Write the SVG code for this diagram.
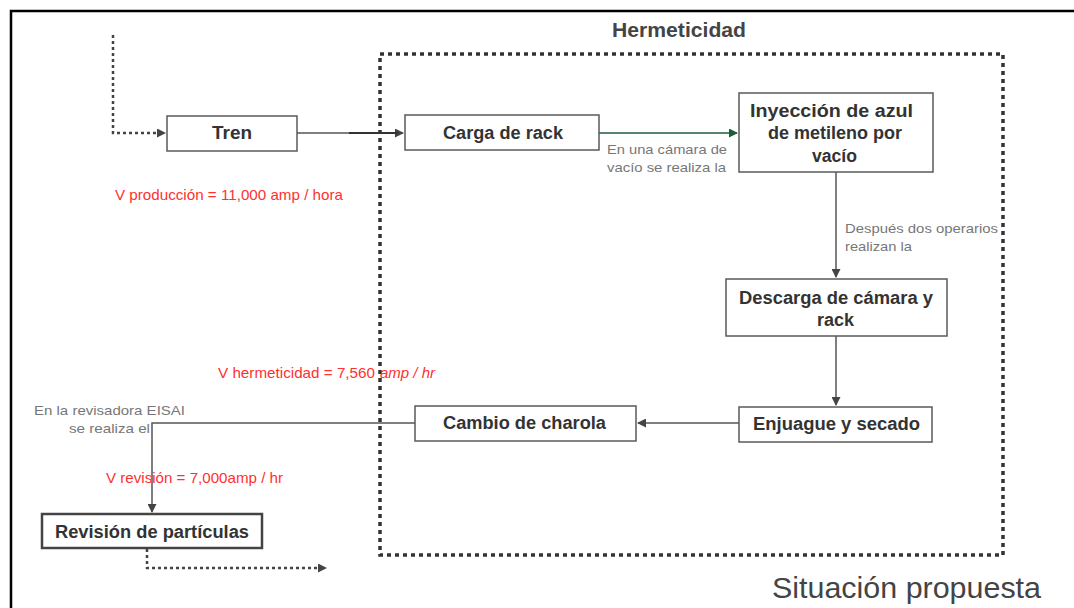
<svg xmlns="http://www.w3.org/2000/svg" width="1074" height="608" viewBox="0 0 1074 608">
  <style>
    .node rect { fill: #ffffff; stroke: #5a5a5a; stroke-width: 1.5; }
    .node text { font-family: "Liberation Sans", Arial, sans-serif; font-size: 18px; font-weight: bold; fill: #333333; lengthAdjust: spacingAndGlyphs; }
    .edge { fill: none; stroke: #555555; stroke-width: 1.5; }
    .dots { fill: none; stroke: #444444; stroke-width: 2.5; stroke-dasharray: 3 3; }
    .note { font-family: "Liberation Sans", Arial, sans-serif; font-size: 13px; fill: #777777; }
    .rate { font-family: "Liberation Sans", Arial, sans-serif; font-size: 15px; fill: #ff3030; }
  </style>
  <defs>
    <marker id="arr" markerWidth="9" markerHeight="9" refX="8" refY="4.5" orient="auto" markerUnits="userSpaceOnUse">
      <path d="M0,0 L9,4.5 L0,9 Z" fill="#444444"/>
    </marker>
    <marker id="arrG" markerWidth="9" markerHeight="9" refX="8" refY="4.5" orient="auto" markerUnits="userSpaceOnUse">
      <path d="M0,0 L9,4.5 L0,9 Z" fill="#1c5e3c"/>
    </marker>
  </defs>

  <rect x="0" y="0" width="1074" height="608" fill="#ffffff"/>
  <!-- page frame -->
  <path d="M11,608 L11,11 L1074,11" fill="none" stroke="#000000" stroke-width="2.5"/>

  <!-- process boundary -->
  <rect x="380" y="54" width="623" height="501" fill="none" stroke="#333333" stroke-width="3.5" stroke-dasharray="4 4"/>
  <text x="612" y="37" font-family="Liberation Sans, Arial, sans-serif" font-size="20" font-weight="bold" fill="#444444" textLength="134" lengthAdjust="spacingAndGlyphs">Hermeticidad</text>

  <g id="connectors">
    <path class="dots" d="M113,35 L113,133 L165,133" marker-end="url(#arr)"/>
    <path class="edge" d="M297,133 L403,133" stroke="#666666" marker-end="url(#arr)"/>
    <path d="M349,133 L398,133" stroke="#333333" stroke-width="2" fill="none"/>
    <path d="M599,133 L737,133" fill="none" stroke="#1c5e3c" stroke-width="1.5" marker-end="url(#arrG)"/>
    <path class="edge" d="M836,172 L836,277" marker-end="url(#arr)"/>
    <path class="edge" d="M836,336 L836,405" marker-end="url(#arr)"/>
    <path class="edge" d="M739,423 L638,423" marker-end="url(#arr)"/>
    <path class="edge" d="M415,423 L152,423 L152,512" stroke-width="2" stroke="#444444" marker-end="url(#arr)"/>
    <path class="dots" d="M147,549 L147,568 L326,568" stroke-width="2" marker-end="url(#arr)"/>
  </g>

  <g id="tren" class="node">
    <rect x="167" y="116" width="130" height="35"/>
    <text x="212" y="139" textLength="40" lengthAdjust="spacingAndGlyphs">Tren</text>
  </g>
  <g id="carga-rack" class="node">
    <rect x="405" y="115" width="194" height="35"/>
    <text x="443" y="139" textLength="120" lengthAdjust="spacingAndGlyphs">Carga de rack</text>
  </g>
  <g id="inyeccion" class="node">
    <rect x="739" y="93" width="194" height="79"/>
    <text x="750" y="117" textLength="163" lengthAdjust="spacingAndGlyphs">Inyección de azul</text>
    <text x="768" y="139" textLength="134" lengthAdjust="spacingAndGlyphs">de metileno por</text>
    <text x="812" y="162" textLength="45" lengthAdjust="spacingAndGlyphs">vacío</text>
  </g>
  <g id="descarga" class="node">
    <rect x="726" y="279" width="221" height="57"/>
    <text x="739" y="304" textLength="194" lengthAdjust="spacingAndGlyphs">Descarga de cámara y</text>
    <text x="817" y="326" textLength="37" lengthAdjust="spacingAndGlyphs">rack</text>
  </g>
  <g id="enjuague" class="node">
    <rect x="739" y="407" width="193" height="35"/>
    <text x="753" y="430" textLength="167" lengthAdjust="spacingAndGlyphs">Enjuague y secado</text>
  </g>
  <g id="cambio-charola" class="node">
    <rect x="415" y="406" width="221" height="35"/>
    <text x="443" y="429" textLength="163" lengthAdjust="spacingAndGlyphs">Cambio de charola</text>
  </g>
  <g id="revision" class="node">
    <rect x="42" y="514" width="220" height="34" style="stroke-width:2.5;stroke:#444444"/>
    <text x="55" y="538" textLength="194" lengthAdjust="spacingAndGlyphs">Revisión de partículas</text>
  </g>

  <!-- connector labels -->
  <text class="note" x="607" y="154" textLength="120" lengthAdjust="spacingAndGlyphs">En una cámara de</text>
  <text class="note" x="607" y="172" textLength="119" lengthAdjust="spacingAndGlyphs">vacío se realiza la</text>
  <text class="note" x="845" y="233" textLength="153" lengthAdjust="spacingAndGlyphs">Después dos operarios</text>
  <text class="note" x="845" y="251" textLength="67" lengthAdjust="spacingAndGlyphs">realizan la</text>
  <text class="note" x="34" y="415" textLength="151" lengthAdjust="spacingAndGlyphs">En la revisadora EISAI</text>
  <text class="note" x="69" y="433" textLength="81" lengthAdjust="spacingAndGlyphs">se realiza el</text>

  <!-- throughput figures -->
  <text class="rate" x="115" y="200" textLength="228" lengthAdjust="spacingAndGlyphs">V producción = 11,000 amp / hora</text>
  <text class="rate" x="218" y="378" textLength="157" lengthAdjust="spacingAndGlyphs">V hermeticidad = 7,560</text>
  <text class="rate" x="380" y="378" font-style="italic" font-size="14" textLength="55" lengthAdjust="spacingAndGlyphs">amp / hr</text>
  <text class="rate" x="106" y="483" textLength="177" lengthAdjust="spacingAndGlyphs">V revisión = 7,000amp / hr</text>

  <text x="772" y="598" font-family="Liberation Sans, Arial, sans-serif" font-size="30" fill="#444444" textLength="269" lengthAdjust="spacingAndGlyphs">Situación propuesta</text>
</svg>
